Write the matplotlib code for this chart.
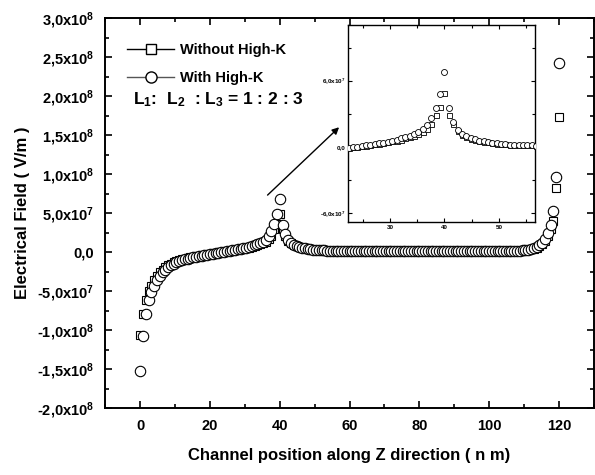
import numpy as np
import matplotlib
matplotlib.use("Agg")
import matplotlib.pyplot as plt
from matplotlib.lines import Line2D
from matplotlib.ticker import MultipleLocator, FuncFormatter

plt.rcParams['font.family'] = ['Liberation Sans', 'DejaVu Sans']
plt.rcParams['mathtext.fontset'] = 'custom'
plt.rcParams['mathtext.rm'] = 'Liberation Sans:bold'
plt.rcParams['mathtext.it'] = 'Liberation Sans:bold'
plt.rcParams['mathtext.bf'] = 'Liberation Sans:bold'
plt.rcParams['mathtext.sf'] = 'Liberation Sans:bold'

# channel positions (nm), sampling grid of the simulation (0.8 nm step)
z_nm = np.arange(151) * 0.8

# Electric field, units of 1e7 V/m
with_highk = [
    -15.3, -10.8, -7.95, -6.15, -5.1, -4.3, -3.6, -3.05, -2.6, -2.25,
    -1.95, -1.7, -1.5, -1.33, -1.18, -1.05, -0.94, -0.84, -0.75, -0.67,
    -0.6, -0.53, -0.46, -0.40, -0.34, -0.28, -0.22, -0.16, -0.10, -0.04,
    0.02, 0.08, 0.14, 0.20, 0.26, 0.33, 0.40, 0.48, 0.57, 0.67,
    0.77, 0.88, 1.0, 1.15, 1.35, 1.6, 2.0, 2.66, 3.57, 4.82,
    6.85, 3.52, 2.3, 1.55, 1.2, 0.95, 0.8, 0.68, 0.58, 0.5,
    0.43, 0.37, 0.32, 0.28, 0.25, 0.22, 0.2, 0.18, 0.16, 0.15,
    0.14, 0.13, 0.13, 0.13, 0.12, 0.12, 0.12, 0.12, 0.11, 0.11,
    0.11, 0.11, 0.11, 0.11, 0.10, 0.10, 0.10, 0.10, 0.10, 0.10,
    0.10, 0.10, 0.10, 0.10, 0.10, 0.10, 0.10, 0.10, 0.10, 0.10,
    0.10, 0.10, 0.10, 0.10, 0.10, 0.10, 0.10, 0.10, 0.10, 0.10,
    0.10, 0.10, 0.10, 0.10, 0.10, 0.10, 0.10, 0.10, 0.10, 0.10,
    0.10, 0.10, 0.11, 0.11, 0.11, 0.11, 0.11, 0.11, 0.12, 0.12,
    0.12, 0.12, 0.12, 0.13, 0.13, 0.15, 0.17, 0.2, 0.24, 0.29,
    0.36, 0.46, 0.62, 0.85, 1.15, 1.65, 2.4, 3.5, 5.3, 9.6,
    24.3,
]
without_highk = [
    -10.65, -7.9, -6.15, -5.05, -4.3, -3.6, -3.05, -2.6, -2.25, -1.95,
    -1.7, -1.5, -1.33, -1.18, -1.05, -0.94, -0.84, -0.75, -0.67, -0.6,
    -0.53, -0.46, -0.40, -0.34, -0.28, -0.22, -0.17, -0.12, -0.07, -0.02,
    0.03, 0.08, 0.13, 0.18, 0.24, 0.30, 0.36, 0.43, 0.50, 0.58,
    0.67, 0.77, 0.88, 1.0, 1.15, 1.35, 1.62, 2.1, 2.9, 3.6,
    4.94, 2.9, 2.1, 1.45, 1.12, 0.9, 0.76, 0.65, 0.56, 0.48,
    0.42, 0.36, 0.31, 0.27, 0.24, 0.21, 0.19, 0.17, 0.16, 0.15,
    0.14, 0.13, 0.13, 0.13, 0.12, 0.12, 0.12, 0.12, 0.11, 0.11,
    0.11, 0.11, 0.11, 0.11, 0.10, 0.10, 0.10, 0.10, 0.10, 0.10,
    0.10, 0.10, 0.10, 0.10, 0.10, 0.10, 0.10, 0.10, 0.10, 0.10,
    0.10, 0.10, 0.10, 0.10, 0.10, 0.10, 0.10, 0.10, 0.10, 0.10,
    0.10, 0.10, 0.10, 0.10, 0.10, 0.10, 0.10, 0.10, 0.10, 0.10,
    0.10, 0.10, 0.11, 0.11, 0.11, 0.11, 0.11, 0.11, 0.12, 0.12,
    0.12, 0.12, 0.12, 0.13, 0.13, 0.14, 0.16, 0.19, 0.23, 0.28,
    0.34, 0.43, 0.56, 0.75, 1.0, 1.4, 2.0, 2.9, 4.0, 8.2,
    17.3,
]

E_with = np.array(with_highk) * 1e7
E_without = np.array(without_highk) * 1e7

series_labels = ["Without High-K", "With High-K"]
ratio_text = r"L$_{1}$:  L$_{2}$  : L$_{3}$ = 1 : 2 : 3"


def sci_fmt(v, pos):
    if abs(v) < 1e-3:
        return "0,0"
    exp = int(np.floor(np.log10(abs(v)) + 1e-9))
    mant = v / 10 ** exp
    s = f"{mant:.1f}".replace(".", ",")
    return s + "x10$^{" + str(exp) + "}$"


fig = plt.figure(figsize=(5.95, 4.75), dpi=100)
ax = fig.add_axes([0.177, 0.141, 0.821, 0.821])

ax.plot(z_nm, E_without, ls='none', marker='s', ms=6, mfc='white',
        mec='black', mew=0.8, zorder=3)
ax.plot(z_nm, E_with, ls='none', marker='o', ms=7.5, mfc='white',
        mec='black', mew=0.8, zorder=4)

ax.set_xlim(-10, 130)
ax.set_ylim(-2e8, 3e8)
ax.xaxis.set_major_locator(MultipleLocator(20))
ax.xaxis.set_minor_locator(MultipleLocator(10))
ax.yaxis.set_major_locator(MultipleLocator(5e7))
ax.yaxis.set_minor_locator(MultipleLocator(2.5e7))
ax.yaxis.set_major_formatter(FuncFormatter(sci_fmt))
ax.tick_params(which='both', direction='in', top=True, right=True, width=1.2)
ax.tick_params(which='major', length=5)
ax.tick_params(which='minor', length=3)
ax.tick_params(axis='x', which='major', pad=8, labelsize=10.5)
ax.tick_params(axis='y', which='major', pad=8, labelsize=10.5)
for lab in ax.get_xticklabels() + ax.get_yticklabels():
    lab.set_fontweight('bold')
for sp in ax.spines.values():
    sp.set_linewidth(1.4)

ax.set_xlabel("Channel position along Z direction ( n m)", fontsize=12,
              fontweight='bold', labelpad=11)
ax.set_ylabel("Electrical Field ( V/m )", fontsize=12, fontweight='bold',
              labelpad=5)

handles = [
    Line2D([0], [0], color='black', lw=1, marker='s', ms=7, mfc='white', mec='black'),
    Line2D([0], [0], color='#555555', lw=1, marker='o', ms=8, mfc='white', mec='black'),
]
leg = ax.legend(handles, series_labels, loc='upper left',
                bbox_to_anchor=(0.033, 0.95), borderaxespad=0, frameon=False,
                handlelength=3.2, handletextpad=0.4, labelspacing=0.95,
                prop={'weight': 'bold', 'size': 10.5})

ax.text(0.056, 0.79, ratio_text, transform=ax.transAxes, fontsize=12.5,
        fontweight='bold', va='center', ha='left')

ax.annotate('', xy=(57, 1.6e8), xytext=(36.5, 0.73e8),
            arrowprops=dict(arrowstyle='-|>', color='black', lw=1,
                            mutation_scale=10, shrinkA=0, shrinkB=0))

# inset
axi = fig.add_axes([0.585, 0.533, 0.314, 0.415])
axi.set_facecolor('white')
axi.plot(z_nm, E_without, ls='none', marker='s', ms=3.6, mfc='white',
         mec='black', mew=0.6, zorder=3)
axi.plot(z_nm, E_with, ls='none', marker='o', ms=4.3, mfc='white',
         mec='black', mew=0.6, zorder=4)
axi.set_xlim(22.3, 56.6)
axi.set_ylim(-6.8e7, 1.11e8)
axi.xaxis.set_major_locator(MultipleLocator(10))
axi.xaxis.set_minor_locator(MultipleLocator(5))
axi.yaxis.set_major_locator(MultipleLocator(6e7))
axi.yaxis.set_minor_locator(MultipleLocator(3e7))
axi.yaxis.set_major_formatter(FuncFormatter(sci_fmt))
axi.tick_params(which='both', direction='in', top=True, right=True,
                labelsize=4.5, width=0.8, pad=2)
axi.tick_params(which='major', length=3)
axi.tick_params(which='minor', length=2)
for lab in axi.get_xticklabels() + axi.get_yticklabels():
    lab.set_fontweight('bold')
for sp in axi.spines.values():
    sp.set_linewidth(1.0)

fig.savefig("out.png", dpi=100)
